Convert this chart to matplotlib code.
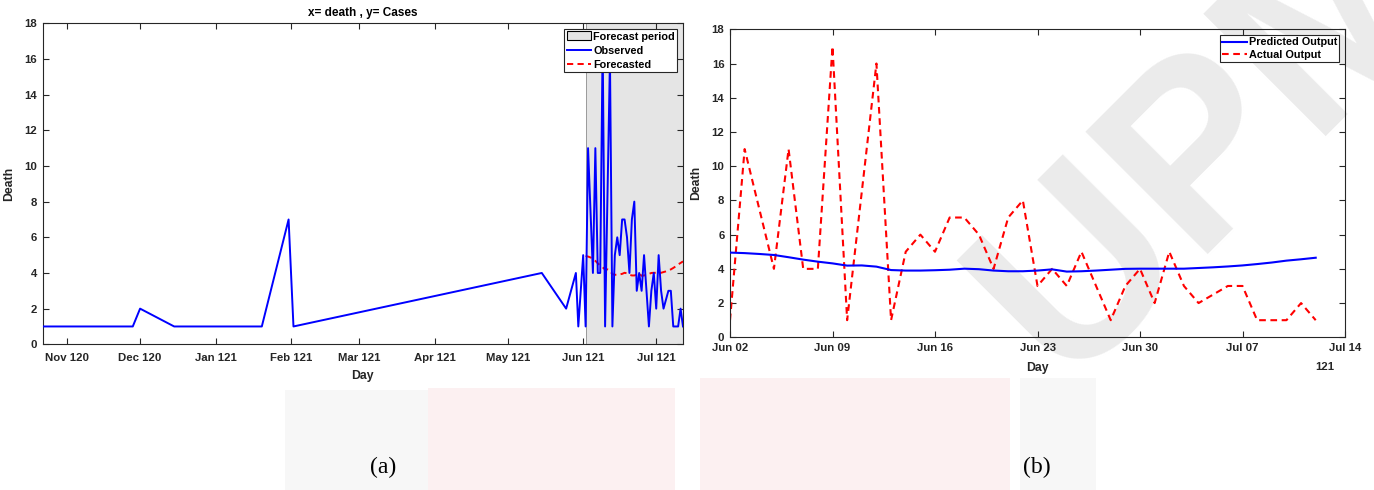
import matplotlib
matplotlib.use("Agg")
import matplotlib.pyplot as plt
import pandas as pd
from matplotlib.patches import Patch, Rectangle
from matplotlib.lines import Line2D

plt.rcParams["font.family"] = ["Liberation Sans", "DejaVu Sans"]
plt.rcParams["font.weight"] = "bold"
plt.rcParams["axes.labelweight"] = "bold"

# ---- data -------------------------------------------------------------
# sparse observations before the forecast window
early_dates = ["2020-10-22", "2020-11-28", "2020-12-01", "2020-12-15",
               "2021-01-20", "2021-01-31", "2021-02-02", "2021-05-15",
               "2021-05-25", "2021-05-29", "2021-05-30", "2021-06-01"]
early_deaths = [1, 1, 2, 1, 1, 7, 1, 4, 2, 4, 1, 5]

# daily values in the forecast window (starting 2021-06-02)
window_start = "2021-06-02"
actual_deaths = [1, 11, 7.5, 4, 11, 4, 4, 17, 1, 8.5, 16, 1, 5, 6, 5, 7, 7, 6,
                 4, 7, 8, 3, 4, 3, 5, 3, 1, 3, 4, 2, 5, 3, 2, 2.5, 3, 3, 1, 1,
                 1, 2, 1]
predicted_deaths = [4.95, 4.92, 4.87, 4.81, 4.68, 4.54, 4.42, 4.32, 4.19, 4.20,
                    4.13, 3.93, 3.90, 3.90, 3.92, 3.95, 4.01, 3.98, 3.90, 3.86,
                    3.86, 3.90, 3.97, 3.84, 3.86, 3.90, 3.95, 4.00, 4.01, 4.01,
                    4.01, 4.01, 4.05, 4.09, 4.14, 4.20, 4.28, 4.37, 4.48, 4.56,
                    4.65]

left_tick_labels = ["Nov 120", "Dec 120", "Jan 121", "Feb 121", "Mar 121",
                    "Apr 121", "May 121", "Jun 121", "Jul 121"]
right_tick_labels = ["Jun 02", "Jun 09", "Jun 16", "Jun 23", "Jun 30",
                     "Jul 07", "Jul 14"]
y_ticks = [0, 2, 4, 6, 8, 10, 12, 14, 16, 18]

# ---- derived series ---------------------------------------------------
window_dates = pd.date_range(window_start, periods=len(actual_deaths), freq="D")
obs_dates = list(pd.to_datetime(early_dates)) + list(window_dates)
obs_deaths = early_deaths + actual_deaths

TXT = "#262626"
DASH = (0, (3.2, 2.2))
W, H = 1374, 490
fig = plt.figure(figsize=(W / 100, H / 100), dpi=100)

# faint page watermark drawn beneath the charts
fig.text(1215 / W, 1 - 140 / H, "UPM", rotation=45, fontsize=180,
         fontweight="bold", color="#ebebeb", ha="center", va="center",
         zorder=-5)
for x0, x1, y0, col in [(285, 428, 390, "#f7f7f7"), (428, 675, 388, "#fcf0f1"),
                        (700, 1010, 378, "#fcf0f1"), (1020, 1096, 378, "#f7f7f7")]:
    fig.patches.append(Rectangle((x0 / W, 0), (x1 - x0) / W, 1 - y0 / H,
                                 transform=fig.transFigure, facecolor=col,
                                 edgecolor="none", zorder=-6))


def style_axes(ax):
    ax.set_facecolor("none")
    for s in ax.spines.values():
        s.set_color(TXT)
        s.set_linewidth(0.8)
    ax.tick_params(direction="in", length=4, width=0.8, top=True, right=True,
                   colors=TXT, labelsize=8.2)
    ax.set_yticks(y_ticks)
    ax.set_ylim(0, 18)


def legend_style():
    return dict(loc="upper right", fontsize=7.8, fancybox=False, framealpha=1,
                edgecolor=TXT, borderpad=0.2, handlelength=2.3,
                handletextpad=0.15, borderaxespad=0.55)


# ---- (a) observed data with forecast ---------------------------------
axa = fig.add_axes([42.7 / W, 1 - 344.3 / H, (683 - 42.7) / W, (344.3 - 23.3) / H])
style_axes(axa)
axa.axvspan(window_dates[0], window_dates[-1], facecolor="#e5e5e5",
            edgecolor="#8c8c8c", linewidth=0.6, zorder=0)
axa.plot(window_dates, predicted_deaths, color="red", linestyle=DASH,
         linewidth=1.4, zorder=2)
axa.plot(obs_dates, obs_deaths, color="blue", linewidth=1.4, zorder=3)
axa.set_xlim(pd.Timestamp("2020-10-22"), window_dates[-1])
axa.set_xticks(pd.date_range("2020-11-01", "2021-07-01", freq="MS"))
axa.set_xticklabels(left_tick_labels)
axa.tick_params(axis="x", pad=6)
axa.tick_params(axis="y", pad=4)
axa.set_title("x= death , y= Cases", fontsize=8.5, fontweight="bold",
              color="black", pad=5)
axa.set_xlabel("Day", fontsize=8.8, color=TXT)
axa.set_ylabel("Death", fontsize=8.8, color=TXT)
axa.xaxis.set_label_coords(0.5, -0.08)
axa.yaxis.set_label_coords(-0.043, 0.5)
leg_a = axa.legend(
    handles=[Patch(facecolor="#e5e5e5", edgecolor="black", linewidth=0.8),
             Line2D([], [], color="blue", linewidth=1.4),
             Line2D([], [], color="red", linewidth=1.4, linestyle=DASH)],
    labels=["Forecast period", "Observed", "Forecasted"],
    labelspacing=0.35, handleheight=0.9, **legend_style())
leg_a.get_frame().set_linewidth(0.8)

# ---- (b) predicted vs actual -----------------------------------------
axb = fig.add_axes([730 / W, 1 - 337.3 / H, (1345 - 730) / W, (337.3 - 29.3) / H])
style_axes(axb)
axb.plot(window_dates, predicted_deaths, color="blue", linewidth=1.5,
         label="Predicted Output", zorder=3)
axb.plot(window_dates, actual_deaths, color="red", linestyle=DASH,
         linewidth=1.5, label="Actual Output", zorder=2)
axb.set_xlim(window_dates[0], pd.Timestamp("2021-07-14"))
axb.set_xticks(pd.date_range(window_start, "2021-07-14", freq="7D"))
axb.set_xticklabels(right_tick_labels)
axb.tick_params(axis="x", pad=4)
axb.tick_params(axis="y", pad=4)
axb.set_xlabel("Day", fontsize=8.8, color=TXT)
axb.set_ylabel("Death", fontsize=8.8, color=TXT)
axb.xaxis.set_label_coords(0.5, -0.08)
axb.yaxis.set_label_coords(-0.045, 0.5)
axb.text(1.0 - 20 / 615, -0.08, "121", transform=axb.transAxes, ha="center",
         va="top", fontsize=8.2, color=TXT)
leg_b = axb.legend(labelspacing=0.25, **legend_style())
leg_b.get_frame().set_linewidth(0.8)

# ---- panel captions ----------------------------------------------------
fig.text(383 / W, 1 - 467 / H, "(a)", fontsize=17, fontweight="normal",
         family="Liberation Serif", ha="center", va="center", color="black")
fig.text(1037 / W, 1 - 467 / H, "(b)", fontsize=17, fontweight="normal",
         family="Liberation Serif", ha="center", va="center", color="black")

fig.savefig("out.png", dpi=100, facecolor="white")
